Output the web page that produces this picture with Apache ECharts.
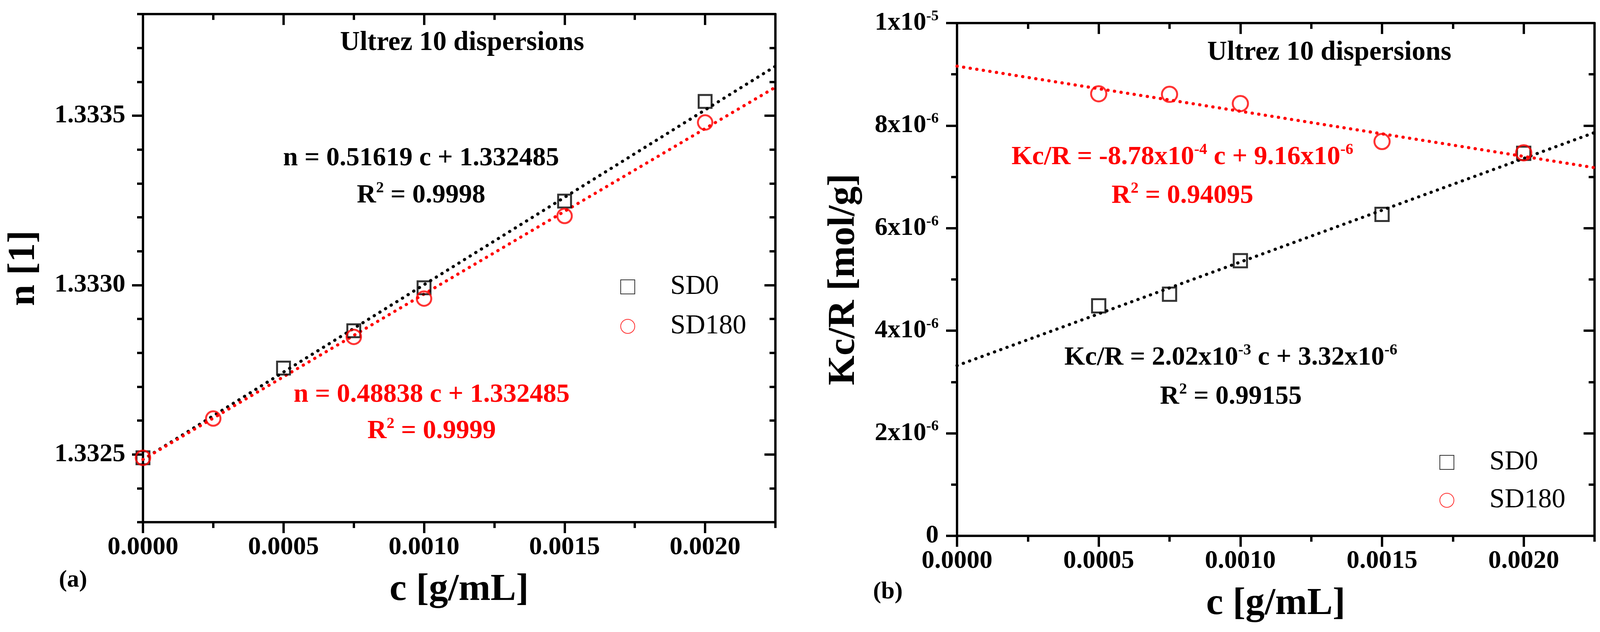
<!DOCTYPE html>
<html>
<head>
<meta charset="utf-8">
<script src="https://cdn.jsdelivr.net/npm/echarts@6/dist/echarts.min.js"></script>
<style>
  html, body { margin: 0; padding: 0; background: #fff; }
  #chart { width: 4106px; height: 1617px; }
</style>
</head>
<body>
<div id="chart"></div>
<script>
// ---- panel (a): refractive index n vs c ----
var cA_SD0 = [0, 0.0005, 0.00075, 0.0010, 0.0015, 0.0020];
var nA_SD0 = [1.33249, 1.332755, 1.332865, 1.332992, 1.333248, 1.333542];
var cA_SD180 = [0, 0.00025, 0.00075, 0.0010, 0.0015, 0.0020];
var nA_SD180 = [1.33249, 1.332606, 1.332847, 1.332960, 1.333204, 1.333480];
// fitted lines, end points read at c = 0 and c = 0.00225
var fitC = [0, 0.00225];
var fitA_SD0 = [1.332485, 1.333646];
var fitA_SD180 = [1.332485, 1.333584];

// ---- panel (b): Kc/R vs c ----
var cB = [0.0005, 0.00075, 0.0010, 0.0015, 0.0020];
var kB_SD0 = [4.485e-6, 4.713e-6, 5.366e-6, 6.27e-6, 7.46e-6];
var kB_SD180 = [8.62e-6, 8.61e-6, 8.43e-6, 7.69e-6, 7.47e-6];
var fitB_SD0 = [3.32e-6, 7.865e-6];
var fitB_SD180 = [9.16e-6, 7.18e-6];

// ---- ticks ----
var cTicks = [0, 0.0005, 0.0010, 0.0015, 0.0020];
var cMinorTicks = [0.00025, 0.00075, 0.00125, 0.00175, 0.00225];
var nTicks = [1.3325, 1.3330, 1.3335];
var nMinorTicks = [1.3323, 1.3324, 1.3326, 1.3327, 1.3328, 1.3329, 1.3331,
                   1.3332, 1.3333, 1.3334, 1.3336, 1.3337, 1.3338];
var kTicks = [0, 2e-6, 4e-6, 6e-6, 8e-6, 1e-5];
var kMinorTicks = [1e-6, 3e-6, 5e-6, 7e-6, 9e-6];

var FONT = "'Liberation Serif', 'Times New Roman', serif";
var RED = '#ff0000';
var LW = 6;

function pairs(xs, ys) {
    return xs.map(function (x, i) { return [x, ys[i]]; });
}

// one side of the frame: axis line + ticks (major or minor)
function sideAxis(grid, pos, min, max, ticks, len, inside, line) {
    return {
        type: 'value', gridIndex: grid, position: pos, min: min, max: max,
        axisLine: {show: line, onZero: false, lineStyle: {color: '#000', width: LW}},
        axisTick: {show: true, inside: inside, length: len, customValues: ticks,
                   lineStyle: {color: '#000', width: LW}},
        axisLabel: {show: false},
        splitLine: {show: false}
    };
}

var tickFont = {fontFamily: FONT, fontSize: 66, fontWeight: 'bold', color: '#000'};
var nameFont = {fontFamily: FONT, fontSize: 98, fontWeight: 'bold', color: '#000'};

function xAxesFor(grid, nameGap) {
    var bottom = sideAxis(grid, 'bottom', 0, 0.00225, cTicks, 28, false, true);
    bottom.axisLabel = Object.assign({show: true, margin: 32, customValues: cTicks,
        formatter: function (v) { return v.toFixed(4); }}, tickFont);
    bottom.name = 'c [g/mL]';
    bottom.nameLocation = 'middle';
    bottom.nameGap = nameGap;
    bottom.nameTextStyle = nameFont;
    return [
        bottom,
        sideAxis(grid, 'bottom', 0, 0.00225, cMinorTicks, 15, false, false),
        sideAxis(grid, 'top', 0, 0.00225, cTicks, 28, true, true),
        sideAxis(grid, 'top', 0, 0.00225, cMinorTicks, 15, true, false)
    ];
}

function yAxesFor(grid, min, max, ticks, minor, label, name, nameGap) {
    var left = sideAxis(grid, 'left', min, max, ticks, 28, false, true);
    left.axisLabel = label;
    left.name = name;
    left.nameLocation = 'middle';
    left.nameGap = nameGap;
    left.nameTextStyle = nameFont;
    return [
        left,
        sideAxis(grid, 'left', min, max, minor, 15, false, false),
        sideAxis(grid, 'right', min, max, ticks, 28, true, true),
        sideAxis(grid, 'right', min, max, minor, 15, true, false)
    ];
}

var nLabel = Object.assign({show: true, margin: 45, customValues: nTicks,
    formatter: function (v) { return v.toFixed(4); }}, tickFont);

var kLabel = {
    show: true, margin: 47, customValues: kTicks,
    formatter: function (v) {
        if (v === 0) return '{m|0}';
        var e = Math.floor(Math.log10(v) + 1e-9);
        var m = Math.round(v / Math.pow(10, e));
        return '{m|' + m + 'x10}{s|' + e + '}';
    },
    rich: {
        m: {fontFamily: FONT, fontSize: 66, fontWeight: 'bold', color: '#000', lineHeight: 72},
        s: {fontFamily: FONT, fontSize: 38, fontWeight: 'bold', color: '#000', lineHeight: 38, verticalAlign: 'top'}
    }
};

function fitLine(name, xi, yi, data, color) {
    return {
        name: name, type: 'line', xAxisIndex: xi, yAxisIndex: yi, data: data,
        showSymbol: false, silent: true, z: 2,
        lineStyle: {color: color, width: 8, type: [0.5, 16.5], cap: 'round'}
    };
}

function points(name, xi, yi, data, symbol, size, color, z) {
    return {
        name: name, type: 'scatter', xAxisIndex: xi, yAxisIndex: yi, data: data,
        symbol: symbol, symbolSize: size, z: z,
        itemStyle: {color: 'rgba(0,0,0,0)', borderColor: color, borderWidth: 5}
    };
}

function richFor(color) {
    return {
        m: {fontFamily: FONT, fontSize: 68, fontWeight: 'bold', fill: color, lineHeight: 76},
        s: {fontFamily: FONT, fontSize: 40, fontWeight: 'bold', fill: color, lineHeight: 40, verticalAlign: 'top'}
    };
}

function note(x, y, text, color) {
    return {
        type: 'text', x: x, y: y, z: 50,
        style: {text: text, rich: richFor(color), fill: color, align: 'center', verticalAlign: 'middle',
                font: 'bold 68px ' + FONT}
    };
}

function plain(x, y, text, size) {
    return {
        type: 'text', x: x, y: y, z: 50,
        style: {text: text, fill: '#000', align: 'center', verticalAlign: 'middle',
                font: 'bold ' + size + 'px ' + FONT}
    };
}

var legendText = {fontFamily: FONT, fontSize: 70, color: '#000', lineHeight: 70, padding: [0, 0, 0, 86]};

var option = {
    animation: false,
    backgroundColor: '#fff',
    grid: [
        {left: 366, right: 2121, top: 36, bottom: 281},
        {left: 2450, right: 24, top: 59, bottom: 246}
    ],
    xAxis: xAxesFor(0, 125).concat(xAxesFor(1, 126)),
    yAxis: yAxesFor(0, 1.3323, 1.3338, nTicks, nMinorTicks, nLabel, 'n [1]', 255)
        .concat(yAxesFor(1, 0, 1e-5, kTicks, kMinorTicks, kLabel, 'Kc/R [mol/g]', 240)),
    legend: [
        {data: ['SD0', 'SD180'], orient: 'vertical', left: 1583, top: 694,
         itemWidth: 36, itemHeight: 36, itemGap: 31, selectedMode: false, textStyle: legendText},
        {data: ['SD0', 'SD180'], orient: 'vertical', left: 3680, top: 1143,
         itemWidth: 36, itemHeight: 36, itemGap: 27, selectedMode: false, textStyle: legendText}
    ],
    series: [
        fitLine('fit a SD0', 0, 0, pairs(fitC, fitA_SD0), '#000'),
        fitLine('fit a SD180', 0, 0, pairs(fitC, fitA_SD180), RED),
        points('SD0', 0, 0, pairs(cA_SD0, nA_SD0), 'rect', 33, '#000', 3),
        points('SD180', 0, 0, pairs(cA_SD180, nA_SD180), 'circle', 37, RED, 4),
        fitLine('fit b SD0', 4, 4, pairs(fitC, fitB_SD0), '#000'),
        fitLine('fit b SD180', 4, 4, pairs(fitC, fitB_SD180), RED),
        points('SD0', 4, 4, pairs(cB, kB_SD0), 'rect', 34, '#000', 3),
        points('SD180', 4, 4, pairs(cB, kB_SD180), 'circle', 39, RED, 4)
    ],
    graphic: [
        plain(1183, 110, 'Ultrez 10 dispersions', 70),
        note(1078, 405, '{m|n = 0.51619 c + 1.332485}', '#000'),
        note(1078, 500, '{m|R}{s|2}{m| = 0.9998}', '#000'),
        note(1105, 1010, '{m|n = 0.48838 c + 1.332485}', RED),
        note(1105, 1103, '{m|R}{s|2}{m| = 0.9999}', RED),
        plain(187, 1485, '(a)', 62),
        plain(3403, 135, 'Ultrez 10 dispersions', 70),
        note(3027, 402, '{m|Kc/R = -8.78x10}{s|-4}{m| c + 9.16x10}{s|-6}', RED),
        note(3027, 501, '{m|R}{s|2}{m| = 0.94095}', RED),
        note(3151, 915, '{m|Kc/R = 2.02x10}{s|-3}{m| c + 3.32x10}{s|-6}', '#000'),
        note(3151, 1015, '{m|R}{s|2}{m| = 0.99155}', '#000'),
        plain(2273, 1515, '(b)', 62)
    ]
};

var chart = echarts.init(document.getElementById('chart'));
chart.setOption(option);
</script>
</body>
</html>
